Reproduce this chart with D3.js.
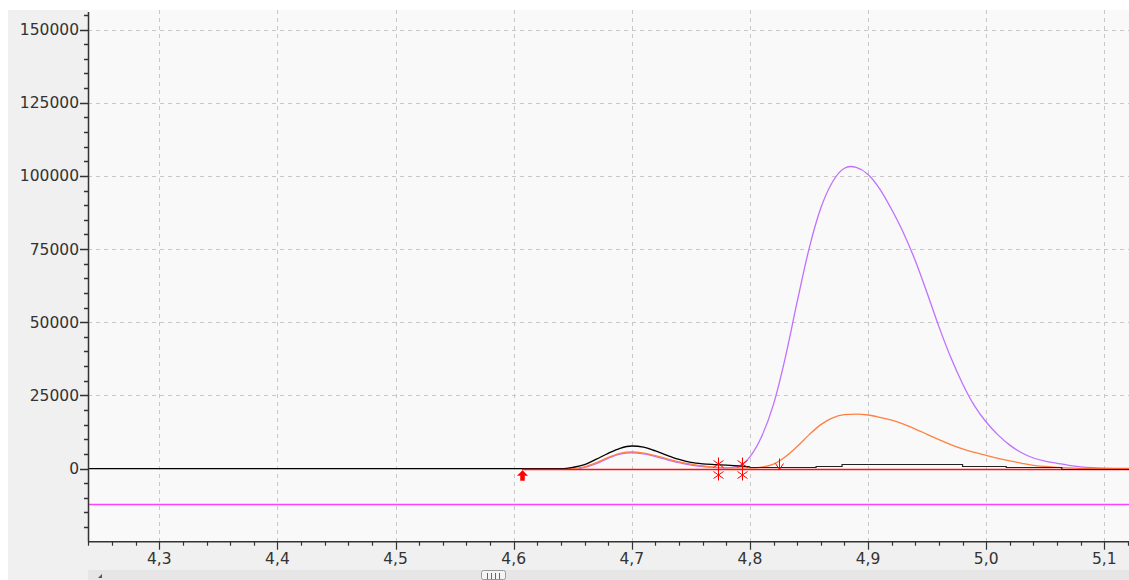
<!DOCTYPE html>
<html>
<head>
<meta charset="utf-8">
<script src="https://cdn.jsdelivr.net/npm/d3@7"></script>
<style>
  body { margin: 0; background: #ffffff; }
  text { font-family: "DejaVu Sans", sans-serif; }
</style>
</head>
<body>
<div id="chart-area"></div>
<script>
// Axis ticks
const xTicks = [4.3, 4.4, 4.5, 4.6, 4.7, 4.8, 4.9, 5.0, 5.1];
const yTicks = [0, 25000, 50000, 75000, 100000, 125000, 150000];

// Black trace: first peak
const blackT = [4.2396, 4.642, 4.650, 4.660, 4.670, 4.680, 4.690, 4.700, 4.710, 4.720, 4.730, 4.740, 4.750, 4.760, 4.770, 4.780, 4.790, 4.800];
const blackV = [0, 0, 400, 1300, 3200, 5200, 6900, 7700, 7300, 6000, 4500, 3100, 2100, 1600, 1350, 1150, 900, 600];
// Black trace: stepped shelf under the big peak
const shelfT = [4.800, 4.856, 4.878, 4.980, 5.017, 5.064, 5.121];
const shelfV = [550, 900, 1450, 900, 550, 0, 0];

// Orange trace
const orangeT = [4.645, 4.655, 4.66, 4.67, 4.68, 4.69, 4.70, 4.71, 4.72, 4.73, 4.74, 4.75, 4.76, 4.77, 4.78, 4.79, 4.80, 4.81, 4.82, 4.83, 4.84, 4.85, 4.86, 4.87, 4.88, 4.89, 4.90, 4.91, 4.92, 4.93, 4.94, 4.95, 4.96, 4.97, 4.98, 4.99, 5.00, 5.01, 5.02, 5.03, 5.04, 5.05, 5.06, 5.07, 5.08, 5.10, 5.121];
const orangeV = [0, 200, 600, 2000, 3800, 5200, 5700, 5300, 4400, 3300, 2300, 1500, 900, 500, 300, 200, 200, 500, 1500, 4000, 7500, 11500, 15000, 17300, 18400, 18600, 18300, 17500, 16500, 15200, 13500, 11700, 9900, 8200, 6700, 5500, 4500, 3500, 2600, 1800, 1100, 700, 400, 200, 80, 0, 0];

// Purple trace
const purpleT = [4.655, 4.66, 4.67, 4.68, 4.69, 4.70, 4.71, 4.72, 4.73, 4.74, 4.75, 4.76, 4.77, 4.78, 4.79, 4.80, 4.81, 4.82, 4.83, 4.84, 4.85, 4.86, 4.87, 4.88, 4.885, 4.89, 4.90, 4.91, 4.92, 4.93, 4.94, 4.95, 4.96, 4.97, 4.98, 4.99, 5.00, 5.01, 5.02, 5.03, 5.04, 5.05, 5.06, 5.07, 5.08, 5.09, 5.10, 5.121];
const purpleV = [0, 400, 1700, 3500, 4900, 5400, 5000, 4100, 3000, 2000, 1200, 700, 400, 250, 800, 4000, 11000, 22000, 38000, 57000, 75000, 89000, 98000, 102600, 103200, 102900, 100500, 95500, 88500, 80500, 71000, 60000, 48500, 38000, 29000, 21500, 15900, 11500, 8000, 5400, 3600, 2500, 1800, 1100, 600, 300, 150, 50];

// Red baseline and markers
const redStart = 4.607;
const magentaLevel = -12000;
const arrowUpT = 4.607;
const starT = [4.773, 4.793];
const arrowDownT = 4.825;

// Layout
const W = 1129, H = 580;
const plot = { left: 88, right: 1129, top: 12, bottom: 541.7 };

const svg = d3.select('#chart-area')
    .append('svg')
        .attr('width', W)
        .attr('height', H);

// Panel background
svg.append('rect')
    .attr('x', 8).attr('y', 10)
    .attr('width', W - 8).attr('height', H - 10)
    .attr('fill', '#f0f0f0');

svg.append('rect')
    .attr('x', plot.left).attr('y', plot.top - 2)
    .attr('width', plot.right - plot.left).attr('height', plot.bottom - plot.top + 2)
    .attr('fill', '#f9f9f9');

// Scales
const x = d3.scaleLinear()
    .domain([4.23964, 5.12091])
    .range([plot.left, plot.right]);

const y = d3.scaleLinear()
    .domain([-25000, 156000])
    .range([plot.bottom, plot.top]);

// Grid
const grid = svg.append('g')
    .attr('stroke', '#c8c8c8')
    .attr('stroke-dasharray', '4,4');

grid.selectAll('.vg')
    .data(xTicks)
    .enter().append('line')
        .attr('x1', (d) => Math.round(x(d)) + 0.5)
        .attr('x2', (d) => Math.round(x(d)) + 0.5)
        .attr('y1', plot.top - 2)
        .attr('y2', plot.bottom);

grid.selectAll('.hg')
    .data(yTicks.filter((d) => d > 0))
    .enter().append('line')
        .attr('x1', plot.left)
        .attr('x2', plot.right)
        .attr('y1', (d) => Math.round(y(d)) + 0.5)
        .attr('y2', (d) => Math.round(y(d)) + 0.5);

// Clip for traces
svg.append('clipPath').attr('id', 'clip')
    .append('rect')
    .attr('x', plot.left).attr('y', plot.top - 2)
    .attr('width', plot.right - plot.left).attr('height', plot.bottom - plot.top);

const g = svg.append('g').attr('clip-path', 'url(#clip)');

// Magenta level line
g.append('line')
    .attr('x1', plot.left).attr('x2', plot.right)
    .attr('y1', Math.round(y(magentaLevel)) + 0.5)
    .attr('y2', Math.round(y(magentaLevel)) + 0.5)
    .attr('stroke', '#ff40ff')
    .attr('stroke-width', 1.5);

const zip = (ts, vs) => ts.map((t, i) => [t, vs[i]]);

const smooth = d3.line()
    .x((d) => x(d[0]))
    .y((d) => y(d[1]))
    .curve(d3.curveMonotoneX);

const stepped = d3.line()
    .x((d) => x(d[0]))
    .y((d) => Math.round(y(d[1])) + 0.5)
    .curve(d3.curveStepAfter);

// Purple trace
g.append('path')
    .attr('d', smooth(zip(purpleT, purpleV)))
    .attr('fill', 'none')
    .attr('stroke', '#c070ff')
    .attr('stroke-width', 1.3);

// Orange trace
g.append('path')
    .attr('d', smooth(zip(orangeT, orangeV)))
    .attr('fill', 'none')
    .attr('stroke', '#ff8040')
    .attr('stroke-width', 1.3);

// Black trace
g.append('path')
    .attr('d', smooth(zip(blackT, blackV)))
    .attr('fill', 'none')
    .attr('stroke', '#000000')
    .attr('stroke-width', 1.3);

// Red baseline
g.append('line')
    .attr('x1', x(redStart)).attr('x2', plot.right)
    .attr('y1', Math.round(y(0)) + 0.5)
    .attr('y2', Math.round(y(0)) + 0.5)
    .attr('stroke', '#ff1010')
    .attr('stroke-width', 1.5);

g.append('path')
    .attr('d', stepped(zip(shelfT, shelfV)))
    .attr('fill', 'none')
    .attr('stroke', '#222222')
    .attr('stroke-width', 1.2);

// Markers
const y0 = Math.round(y(0)) + 0.5;
const mk = svg.append('g').attr('stroke', '#ff0000').attr('fill', '#ff0000');

// filled up arrow
const ax = Math.round(x(arrowUpT)) + 0.5;
mk.append('path')
    .attr('d', `M${ax},${y0 + 1} L${ax + 5},${y0 + 6} L${ax + 2},${y0 + 6} L${ax + 2},${y0 + 11} L${ax - 2},${y0 + 11} L${ax - 2},${y0 + 6} L${ax - 5},${y0 + 6} Z`)
    .attr('stroke-width', 0.5);

// asterisk markers
starT.forEach((t) => {
    const sx = Math.round(x(t)) + 0.5;
    mk.append('path')
        .attr('d', `M${sx},${y0 - 12} L${sx},${y0 + 11}` +
            ` M${sx - 5},${y0 - 9} L${sx + 5},${y0 - 2} M${sx + 5},${y0 - 9} L${sx - 5},${y0 - 2}` +
            ` M${sx - 5},${y0 + 2} L${sx + 5},${y0 + 9} M${sx + 5},${y0 + 2} L${sx - 5},${y0 + 9}`)
        .attr('fill', 'none')
        .attr('stroke-width', 1);
});

// down arrow
const dx = Math.round(x(arrowDownT)) + 0.5;
mk.append('path')
    .attr('d', `M${dx},${y0 - 11} L${dx},${y0} M${dx - 4},${y0 - 6} L${dx},${y0} L${dx + 4},${y0 - 6}`)
    .attr('fill', 'none')
    .attr('stroke-width', 1);

// Y axis
const yAxis = svg.append('g').attr('stroke', '#333333');
yAxis.append('line')
    .attr('x1', plot.left + 0.5).attr('x2', plot.left + 0.5)
    .attr('y1', plot.top).attr('y2', plot.bottom)
    .attr('stroke-width', 1.5);

const yMinor = d3.range(-20000, 156000, 5000);
yAxis.selectAll('.ym')
    .data(yMinor)
    .enter().append('line')
        .attr('x1', (d) => d % 25000 === 0 ? plot.left - 8 : plot.left - 4)
        .attr('x2', plot.left)
        .attr('y1', (d) => Math.round(y(d)) + 0.5)
        .attr('y2', (d) => Math.round(y(d)) + 0.5)
        .attr('stroke-width', 1.5);

svg.selectAll('.yl')
    .data(yTicks)
    .enter().append('text')
        .attr('x', plot.left - 9)
        .attr('y', (d) => y(d))
        .attr('dy', '0.36em')
        .attr('text-anchor', 'end')
        .attr('font-size', '15.5px')
        .attr('fill', '#333333')
        .text((d) => d);

// X axis
const xAxis = svg.append('g').attr('stroke', '#333333');
xAxis.append('line')
    .attr('x1', plot.left).attr('x2', plot.right)
    .attr('y1', plot.bottom).attr('y2', plot.bottom)
    .attr('stroke-width', 1.5);

const xMinor = d3.range(4.24, 5.13, 0.02);
xAxis.selectAll('.xm')
    .data(xMinor)
    .enter().append('line')
        .attr('x1', (d) => Math.round(x(d)) + 0.5)
        .attr('x2', (d) => Math.round(x(d)) + 0.5)
        .attr('y1', plot.bottom)
        .attr('y2', (d) => Math.abs(d * 10 - Math.round(d * 10)) < 1e-6 ? plot.bottom + 8 : plot.bottom + 4)
        .attr('stroke-width', 1.2);

svg.selectAll('.xl')
    .data(xTicks)
    .enter().append('text')
        .attr('x', (d) => x(d))
        .attr('y', plot.bottom + 22)
        .attr('text-anchor', 'middle')
        .attr('font-size', '15.5px')
        .attr('fill', '#333333')
        .text((d) => d3.format('.1f')(d).replace('.', ','));

// Scrollbar strip
svg.append('rect')
    .attr('x', plot.left).attr('y', 570)
    .attr('width', plot.right - plot.left).attr('height', 10)
    .attr('fill', '#e6e6e6');
svg.append('path')
    .attr('d', 'M98,578 L102,574 L102,578 Z')
    .attr('fill', '#555555');
svg.append('rect')
    .attr('x', 481.5).attr('y', 570.5)
    .attr('width', 24).attr('height', 9)
    .attr('rx', 2)
    .attr('fill', '#f4f4f4')
    .attr('stroke', '#999999');
svg.append('g').attr('stroke', '#666666')
    .selectAll('line')
    .data([487, 491, 495, 499])
    .enter().append('line')
        .attr('x1', (d) => d + 0.5).attr('x2', (d) => d + 0.5)
        .attr('y1', 573).attr('y2', 579);
</script>
</body>
</html>
